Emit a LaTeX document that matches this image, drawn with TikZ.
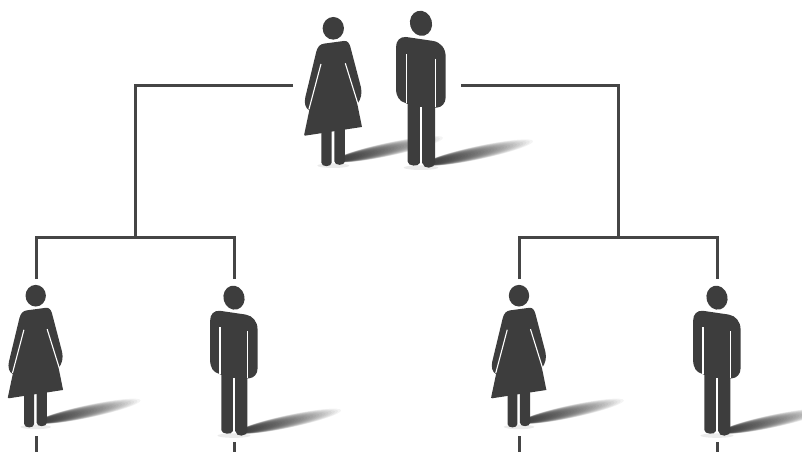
\documentclass[tikz,border=0pt]{standalone}
\definecolor{fig}{HTML}{3D3D3D}
\definecolor{conn}{HTML}{454545}
\newcommand{\softshadow}[2]{%
  \foreach \s [evaluate=\s as \W using 5+15*\s, evaluate=\s as \L using 330*\s] in {0.10,0.13,...,1.0}{
    \begin{scope}[shift={(#1,#2)},rotate=12]
      \fill[black,opacity=0.042] ({\L/2-28},-6) ellipse ({\L/2} and \W);
    \end{scope}
  }%
}
\tikzset{
  link/.style={draw=conn,line width=3pt,line join=miter},
  slit/.style={draw=white,line width=1.1pt},
  pics/woman/.style={code={
    \begin{scope}[shift={(-160,-85)}]
      \fill[black,opacity=0.08] (160,497) ellipse (48 and 7);
      \softshadow{195}{482}
      \fill[fig] (160,85) ellipse (32 and 34);
      \fill[fig] (132,131) -- (192,123) .. controls (203,122) and (208,130) .. (211,140)
        -- (243,262) .. controls (247,280) and (243,298) .. (232,312)
        -- (246,381) -- (76,407) .. controls (72,407) and (72,405) .. (73,402)
        -- (88,331) .. controls (76,326) and (72,308) .. (76,292)
        -- (109,155) .. controls (113,140) and (120,133) .. (132,131) -- cycle;
      \fill[fig] (124,390) -- (124,488) .. controls (124,502) and (155,502) .. (155,488) -- (155,390) -- cycle;
      \fill[fig] (163,390) -- (163,484) .. controls (163,498) and (195,498) .. (195,484) -- (195,385) -- cycle;
      \draw[slit] (123,192) -- (87,328);
      \draw[slit] (196,190) -- (234,312);
    \end{scope}
  }},
  pics/man/.style={code={
    \begin{scope}[shift={(-423,-70)}]
      \fill[black,opacity=0.08] (423,503) ellipse (52 and 7);
      \softshadow{465}{492}
      \begin{scope}[shift={(423,70)},rotate=15]
        \fill[fig] (0,0) ellipse (33 and 38);
      \end{scope}
      \fill[fig] (378,111) -- (460,123) .. controls (482,127) and (497,145) .. (497,170)
        -- (497,292) .. controls (497,310) and (485,322) .. (471,323)
        -- (465,323) -- (465,487) .. controls (465,508) and (428,508) .. (428,490)
        -- (418,490) .. controls (418,500) and (383,500) .. (383,485)
        -- (383,312) -- (376,309) .. controls (358,304) and (348,290) .. (348,265)
        -- (348,142) .. controls (348,122) and (360,110) .. (378,111) -- cycle;
      \draw[slit] (379,163) -- (379,309);
      \draw[slit] (466,176) -- (466,322);
      \draw[slit] (423,322) -- (423,492);
    \end{scope}
  }}
}
\begin{document}
\begin{tikzpicture}[x=1pt,y=-1pt]
  \useasboundingbox (0,0) rectangle (802,452);
  % people
  \pic[scale=0.3333] (topwoman) at (333.3,28.3) {woman};
  \pic[scale=0.3333] (topman) at (421,23.3) {man};
  \pic[scale=0.3185] (lw1) at (35.7,295.7) {woman};
  \pic[scale=0.3185] (lm1) at (234,297.7) {man};
  \pic[scale=0.3185] (lw2) at (519,295.7) {woman};
  \pic[scale=0.3185] (lm2) at (717,297.7) {man};
  % connector ends
  \coordinate (coupleL) at (293,85);
  \coordinate (coupleR) at (461,85);
  \coordinate (forkL) at (135,237);
  \coordinate (forkR) at (618,237);
  \coordinate (a1) at (36,279);
  \coordinate (a2) at (234,279);
  \coordinate (b1) at (519,279);
  \coordinate (b2) at (717,279);
  \coordinate (a1s) at (36,436);
  \coordinate (a1e) at (36,452);
  \coordinate (a2s) at (234,442);
  \coordinate (a2e) at (234,452);
  \coordinate (b1s) at (519,436);
  \coordinate (b1e) at (519,452);
  \coordinate (b2s) at (717,442);
  \coordinate (b2e) at (717,452);
  \draw[link] (coupleL) -| (forkL);
  \draw[link] (coupleR) -| (forkR);
  \draw[link] (a1) |- (forkL) -| (a2);
  \draw[link] (b1) |- (forkR) -| (b2);
  \draw[link] (a1s) -- (a1e);
  \draw[link] (a2s) -- (a2e);
  \draw[link] (b1s) -- (b1e);
  \draw[link] (b2s) -- (b2e);
\end{tikzpicture}
\end{document}
